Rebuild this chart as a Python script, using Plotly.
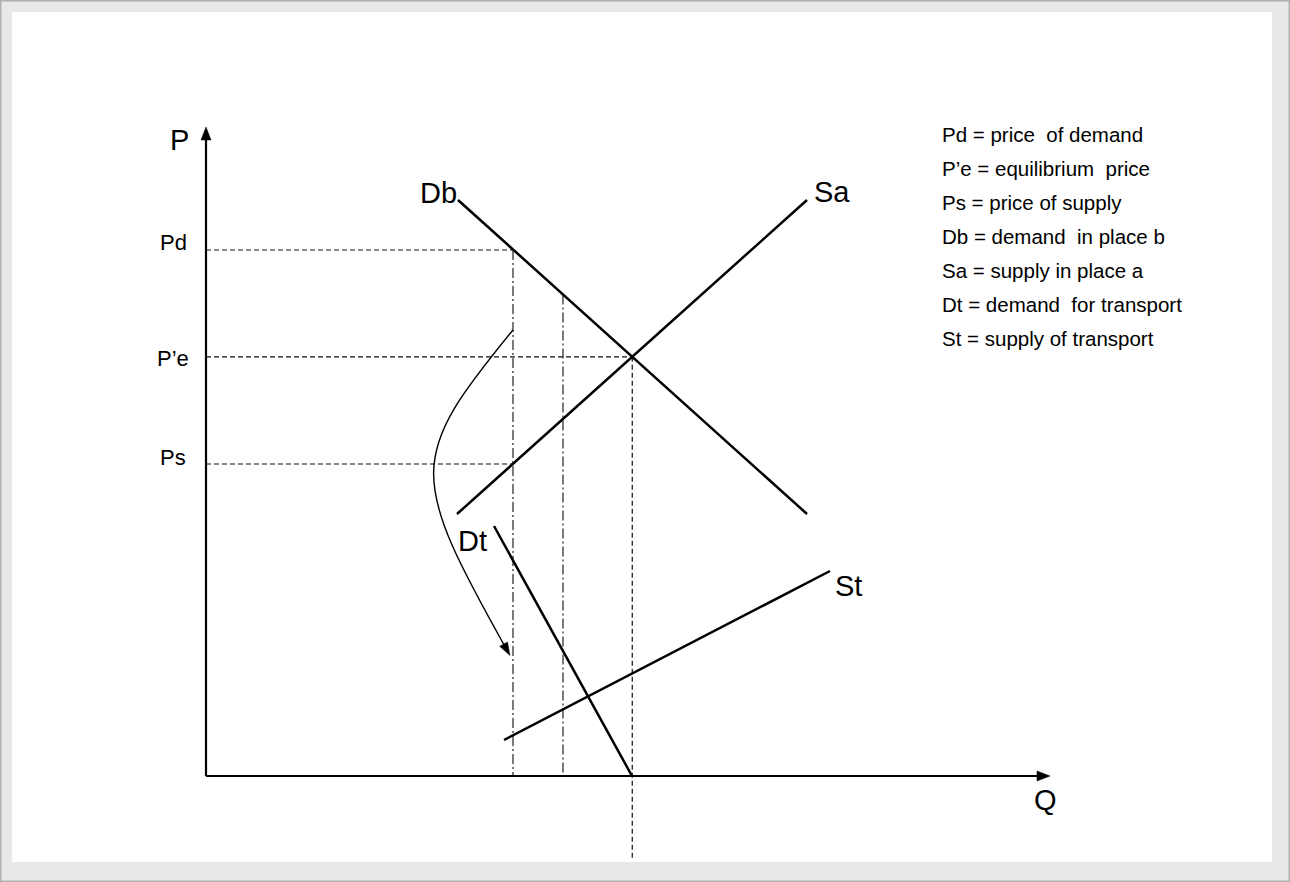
import numpy as np
import plotly.graph_objects as go

# ---------------- data (Q, P in diagram units) ----------------
q_axis_end = 844
p_axis_end = 649

db_q = [252, 601]
db_p = [576, 262]
sa_q = [251, 601]
sa_p = [262, 576]
dt_q = [288, 426]
dt_p = [250, 0]
st_q = [298, 624]
st_p = [36, 205]

price_names = ["Pd", "P\u2019e", "Ps"]
price_values = [526, 419, 312]
q_trade = 307      # quantity at Pd / Ps
q_mid = 357        # second dash-dot quantity
q_below = -84      # dashed Qe line extends below Q axis

curve_ctrl_q = [307, 202, 202, 302]
curve_ctrl_p = [446, 318, 302, 124]

legend_lines = [
    "Pd = price  of demand",
    "P\u2019e = equilibrium  price",
    "Ps = price of supply",
    "Db = demand  in place b",
    "Sa = supply in place a",
    "Dt = demand  for transport",
    "St = supply of transport",
]

# ---------------- derived ----------------
mdb = (db_p[1] - db_p[0]) / (db_q[1] - db_q[0])
msa = (sa_p[1] - sa_p[0]) / (sa_q[1] - sa_q[0])
q_e = (sa_p[0] - db_p[0] + mdb * db_q[0] - msa * sa_q[0]) / (mdb - msa)
p_e = db_p[0] + mdb * (q_e - db_q[0])
p_mid = db_p[0] + mdb * (q_mid - db_q[0])

W, H = 1290, 882
X0, Y0 = 206, 776  # pixel location of origin
xr = [-X0, W - X0]
yr = [Y0 - H, Y0]

FONT = "Liberation Sans, Arial, sans-serif"
fig = go.Figure()

def seg(qs, ps, width=2.5, color="black", dash=None):
    fig.add_trace(go.Scatter(x=qs, y=ps, mode="lines", hoverinfo="skip",
                             line=dict(color=color, width=width, dash=dash),
                             showlegend=False))

DASH = "5px,3px"
DASHDOT = "10px,3px,2px,3px"

# guide lines
seg([0, q_trade], [price_values[0]] * 2, 1.2, "#111", DASH)
seg([0, q_e], [p_e] * 2, 1.2, "#111", DASH)
seg([0, q_trade], [price_values[2]] * 2, 1.2, "#111", DASH)
seg([q_e, q_e], [p_e, q_below], 1.2, "#111", DASH)
seg([q_trade, q_trade], [price_values[0], 0], 1.2, "#222", DASHDOT)
seg([q_mid, q_mid], [p_mid, 0], 1.2, "#222", DASHDOT)

# axes
seg([0, 0], [0, p_axis_end - 10], 2.2)
seg([0, q_axis_end - 10], [0, 0], 2.2)

# curves
seg(db_q, db_p)
seg(sa_q, sa_p)
seg(dt_q, dt_p)
seg(st_q, st_p)

shapes = []
def pf(px, py):
    return px / W, 1 - py / H
shapes.append(dict(type="rect", xref="paper", yref="paper", x0=0, x1=1, y0=0, y1=1,
                   line=dict(color="#b0b0b0", width=3), fillcolor="#e8e8e8", layer="below"))
a = pf(12, 12); b = pf(1272, 862)
shapes.append(dict(type="rect", xref="paper", yref="paper", x0=a[0], x1=b[0], y0=b[1], y1=a[1],
                   line=dict(width=0), fillcolor="white", layer="below"))

# curved arrow
c = list(zip(curve_ctrl_q, curve_ctrl_p))
path = f"M {c[0][0]},{c[0][1]} C {c[1][0]},{c[1][1]} {c[2][0]},{c[2][1]} {c[3][0]},{c[3][1]}"
shapes.append(dict(type="path", xref="x", yref="y", path=path,
                   line=dict(color="black", width=1.4)))

def arrowhead(tip, direction, length=12, half=4.5):
    d = np.array(direction, float); d /= np.linalg.norm(d)
    n = np.array([-d[1], d[0]])
    t = np.array(tip, float)
    base = t - d * length
    p1 = base + n * half; p2 = base - n * half
    return dict(type="path", xref="x", yref="y",
                path=f"M {t[0]},{t[1]} L {p1[0]},{p1[1]} L {p2[0]},{p2[1]} Z",
                fillcolor="black", line=dict(color="black", width=0.5))

end = np.array(c[3]); prev = np.array(c[2])
shapes.append(arrowhead(end + (end - prev) / np.linalg.norm(end - prev) * 4, end - prev, 13, 4.5))
shapes.append(arrowhead((0, p_axis_end), (0, 1), 13, 5))
shapes.append(arrowhead((q_axis_end, 0), (1, 0), 13, 5))

ann = []
def txt(x, y, s, size, xanchor="center", yanchor="middle"):
    ann.append(dict(x=x, y=y, xref="x", yref="y", text=s, showarrow=False,
                    xanchor=xanchor, yanchor=yanchor,
                    font=dict(family=FONT, size=size, color="black")))

txt(179 - X0, Y0 - 140, "P", 29)
txt(1045 - X0, Y0 - 800, "Q", 29)
txt(db_q[0] + 1, Y0 - 193, "Db", 29, xanchor="right")
txt(sa_q[1] + 5, Y0 - 192, "Sa", 29, xanchor="left")
txt(472 - X0, Y0 - 541, "Dt", 29)
txt(848 - X0, Y0 - 586, "St", 29)
label_y_px = [242, 358, 457]
for name, py in zip(price_names, label_y_px):
    txt(173 - X0, Y0 - py, name, 22)

for i, line in enumerate(legend_lines):
    txt(940 - X0, Y0 - (134 + 34 * i), line, 20.5, xanchor="left")

fig.update_layout(
    width=W, height=H, margin=dict(l=0, r=0, t=0, b=0, pad=0),
    paper_bgcolor="#e8e8e8", plot_bgcolor="rgba(0,0,0,0)",
    xaxis=dict(range=xr, visible=False, fixedrange=True),
    yaxis=dict(range=yr, visible=False, fixedrange=True),
    shapes=shapes, annotations=ann, showlegend=False,
)

fig.write_html("out.html", config={"displayModeBar": False},
               post_script="document.body.style.margin='0';document.body.style.overflow='hidden';")
